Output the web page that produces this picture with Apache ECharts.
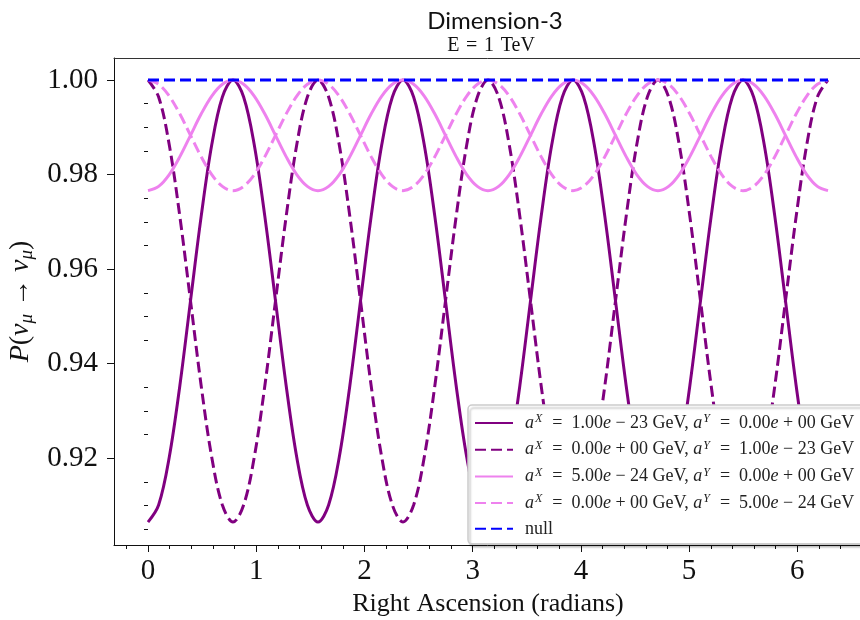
<!DOCTYPE html>
<html><head><meta charset="utf-8">
<script src="https://cdn.jsdelivr.net/npm/echarts@6/dist/echarts.min.js"></script>
<style>html,body{margin:0;padding:0;background:#fff}#c{width:860px;height:620px}</style>
</head><body><div id="c"></div>
<script>
// Right ascension samples (radians)
const ra = [0,0.0982,0.1963,0.2945,0.3927,0.4909,0.5890,0.6872,0.7854,0.8836,0.9817,1.0799,1.1781,1.2763,1.3744,1.4726,
1.5708,1.6690,1.7671,1.8653,1.9635,2.0617,2.1598,2.2580,2.3562,2.4544,2.5525,2.6507,2.7489,2.8471,2.9452,3.0434,
3.1416,3.2398,3.3379,3.4361,3.5343,3.6325,3.7306,3.8288,3.9270,4.0252,4.1233,4.2215,4.3197,4.4179,4.5160,4.6142,
4.7124,4.8106,4.9087,5.0069,5.1051,5.2033,5.3014,5.3996,5.4978,5.5960,5.6941,5.7923,5.8905,5.9887,6.0868,6.1850,6.2832];

const pAx1e23 = [0.9065,0.9101,0.9202,0.9354,0.9533,0.9711,0.9863,0.9964,1.0000,0.9964,0.9863,0.9711,0.9533,0.9354,0.9202,0.9101,
0.9065,0.9101,0.9202,0.9354,0.9533,0.9711,0.9863,0.9964,1.0000,0.9964,0.9863,0.9711,0.9533,0.9354,0.9202,0.9101,
0.9065,0.9101,0.9202,0.9354,0.9533,0.9711,0.9863,0.9964,1.0000,0.9964,0.9863,0.9711,0.9533,0.9354,0.9202,0.9101,
0.9065,0.9101,0.9202,0.9354,0.9533,0.9711,0.9863,0.9964,1.0000,0.9964,0.9863,0.9711,0.9533,0.9354,0.9202,0.9101,0.9065];

const pAy1e23 = [1.0000,0.9964,0.9863,0.9711,0.9533,0.9354,0.9202,0.9101,0.9065,0.9101,0.9202,0.9354,0.9533,0.9711,0.9863,0.9964,
1.0000,0.9964,0.9863,0.9711,0.9533,0.9354,0.9202,0.9101,0.9065,0.9101,0.9202,0.9354,0.9533,0.9711,0.9863,0.9964,
1.0000,0.9964,0.9863,0.9711,0.9533,0.9354,0.9202,0.9101,0.9065,0.9101,0.9202,0.9354,0.9533,0.9711,0.9863,0.9964,
1.0000,0.9964,0.9863,0.9711,0.9533,0.9354,0.9202,0.9101,0.9065,0.9101,0.9202,0.9354,0.9533,0.9711,0.9863,0.9964,1.0000];

const pAx5e24 = [0.9766,0.9775,0.9800,0.9838,0.9883,0.9928,0.9966,0.9991,1.0000,0.9991,0.9966,0.9928,0.9883,0.9838,0.9800,0.9775,
0.9766,0.9775,0.9800,0.9838,0.9883,0.9928,0.9966,0.9991,1.0000,0.9991,0.9966,0.9928,0.9883,0.9838,0.9800,0.9775,
0.9766,0.9775,0.9800,0.9838,0.9883,0.9928,0.9966,0.9991,1.0000,0.9991,0.9966,0.9928,0.9883,0.9838,0.9800,0.9775,
0.9766,0.9775,0.9800,0.9838,0.9883,0.9928,0.9966,0.9991,1.0000,0.9991,0.9966,0.9928,0.9883,0.9838,0.9800,0.9775,0.9766];

const pAy5e24 = [1.0000,0.9991,0.9966,0.9928,0.9883,0.9838,0.9800,0.9775,0.9766,0.9775,0.9800,0.9838,0.9883,0.9928,0.9966,0.9991,
1.0000,0.9991,0.9966,0.9928,0.9883,0.9838,0.9800,0.9775,0.9766,0.9775,0.9800,0.9838,0.9883,0.9928,0.9966,0.9991,
1.0000,0.9991,0.9966,0.9928,0.9883,0.9838,0.9800,0.9775,0.9766,0.9775,0.9800,0.9838,0.9883,0.9928,0.9966,0.9991,
1.0000,0.9991,0.9966,0.9928,0.9883,0.9838,0.9800,0.9775,0.9766,0.9775,0.9800,0.9838,0.9883,0.9928,0.9966,0.9991,1.0000];

const pNull = [1,1,1,1,1,1,1,1,1,1,1,1,1,1,1,1,1,1,1,1,1,1,1,1,1,1,1,1,1,1,1,1,
1,1,1,1,1,1,1,1,1,1,1,1,1,1,1,1,1,1,1,1,1,1,1,1,1,1,1,1,1,1,1,1,1];

// legend labels
const seriesNames = ['ax1e-23', 'ay1e-23', 'ax5e-24', 'ay5e-24', 'null'];
const legendAX = ['1.00', '0.00', '5.00', '0.00'];
const legendAXexp = ['− 23', '+ 00', '− 24', '+ 00'];
const legendAY = ['0.00', '1.00', '0.00', '5.00'];
const legendAYexp = ['+ 00', '− 23', '+ 00', '− 24'];

const xMajor = [0, 1, 2, 3, 4, 5, 6];
const xMinor = [-0.2, 0.2, 0.4, 0.6, 0.8, 1.2, 1.4, 1.6, 1.8, 2.2, 2.4, 2.6, 2.8, 3.2, 3.4, 3.6, 3.8, 4.2, 4.4, 4.6, 4.8, 5.2, 5.4, 5.6, 5.8, 6.2, 6.4];
const yMajor = [0.92, 0.94, 0.96, 0.98, 1.00];
const yMinor = [0.905, 0.910, 0.915, 0.925, 0.930, 0.935, 0.945, 0.950, 0.955, 0.965, 0.970, 0.975, 0.985, 0.990, 0.995];

const xMin = -0.3142, xMax = 6.5974, yMin = 0.90165, yMax = 1.00466;
const SERIF = '"Liberation Serif", "DejaVu Serif", serif';
const INK = '#111';

const chart = echarts.init(document.getElementById('c'), null, {renderer: 'canvas'});

function pts(ys) { return ra.map((x, i) => [x, ys[i]]); }

const colors = ['#800080', '#800080', '#EE82EE', '#EE82EE', '#0000FF'];
const types = ['solid', [11, 5], 'solid', [11, 5], [11, 5]];
const datas = [pAx1e23, pAy1e23, pAx5e24, pAy5e24, pNull];

const series = seriesNames.map((n, i) => ({
  name: n, type: 'line', xAxisIndex: 0, yAxisIndex: 0,
  data: pts(datas[i]), showSymbol: false, symbol: 'none', smooth: 0.35,
  lineStyle: {color: colors[i], width: 3, type: types[i]},
  itemStyle: {color: colors[i]}, z: 2 + i, animation: false
}));

const axisText = {fontFamily: SERIF, fontSize: 29, color: INK};
const EN = '\u2002', SP = '\u2004';

chart.setOption({
  animation: false,
  title: [
    {text: 'Dimension-3', left: 490, top: 4, textAlign: 'center',
     textStyle: {fontFamily: 'Lato, "Open Sans", sans-serif', fontSize: 24, fontWeight: 'normal', color: INK}},
    {text: 'E' + SP + '=' + SP + '1' + SP + 'TeV', left: 486, top: 31, textAlign: 'center',
     textStyle: {fontFamily: SERIF, fontSize: 20, fontWeight: 'normal', color: INK}}
  ],
  grid: {left: 114, right: -2, top: 58, bottom: 75, show: false, containLabel: false, outerBoundsMode: 'none'},
  xAxis: [
    {type: 'value', min: xMin, max: xMax, position: 'bottom',
     axisLine: {show: true, onZero: false, lineStyle: {color: INK, width: 1}}, splitLine: {show: false},
     axisTick: {show: true, customValues: xMajor, length: 7, lineStyle: {color: INK}},
     axisLabel: {customValues: xMajor, margin: 12, ...axisText, formatter: v => String(Math.round(v))},
     name: 'Right Ascension (radians)', nameLocation: 'middle', nameGap: 44,
     nameTextStyle: {fontFamily: SERIF, fontSize: 26, color: INK}},
    {type: 'value', min: xMin, max: xMax, position: 'bottom',
     axisLine: {show: false}, splitLine: {show: false},
     axisTick: {show: true, customValues: xMinor, length: 4, lineStyle: {color: INK}},
     axisLabel: {show: false}},
    {type: 'value', min: xMin, max: xMax, position: 'top',
     axisLine: {show: true, onZero: false, lineStyle: {color: '#333', width: 1}}, splitLine: {show: false},
     axisTick: {show: false}, axisLabel: {show: false}}
  ],
  yAxis: [
    {type: 'value', min: yMin, max: yMax, position: 'left',
     axisLine: {show: true, onZero: false, lineStyle: {color: INK, width: 1}}, splitLine: {show: false},
     axisTick: {show: true, customValues: yMajor, length: 7, lineStyle: {color: INK}},
     axisLabel: {customValues: yMajor, margin: 16, ...axisText, formatter: v => v.toFixed(2)},
     name: '{i|P}({i|ν}{s|μ} → {i|ν}{s|μ})', nameLocation: 'middle', nameRotate: 90, nameGap: 63,
     nameTextStyle: {fontFamily: SERIF, fontSize: 28, color: INK,
       rich: {i: {fontFamily: SERIF, fontStyle: 'italic', fontSize: 28, color: INK},
              s: {fontFamily: SERIF, fontStyle: 'italic', fontSize: 19, color: INK, padding: [12, 0, 0, 0]}}}},
    {type: 'value', min: yMin, max: yMax, position: 'left',
     axisLine: {show: false}, splitLine: {show: false},
     axisTick: {show: true, customValues: yMinor, length: 4, lineStyle: {color: INK}},
     axisLabel: {show: false}}
  ],
  legend: {
    orient: 'vertical', left: 468, top: 405, padding: [8, 12, 6, 6],
    itemWidth: 38, itemHeight: 16, itemGap: 7.7,
    backgroundColor: '#fff', borderColor: '#cccccc', borderWidth: 1.5, borderRadius: 4,
    shadowColor: 'rgba(0,0,0,0.22)', shadowOffsetX: 2, shadowOffsetY: 3, shadowBlur: 2,
    itemStyle: {opacity: 0, borderWidth: 0},
    data: seriesNames,
    formatter: function (name) {
      const i = seriesNames.indexOf(name);
      if (i === 4) return '{n|null}';
      return '{a0|a}{sup|X}{t|' + EN + '=' + EN + legendAX[i] + '}{i|e}{t| ' + legendAXexp[i] + ' GeV, }{i|a}{sup|Y}{t|' + EN + '=' + EN + legendAY[i] + '}{i|e}{t| ' + legendAYexp[i] + ' GeV}';
    },
    textStyle: {fontFamily: SERIF, fontSize: 18, color: '#222',
      rich: {t: {fontFamily: SERIF, fontSize: 18, color: '#222'},
             n: {fontFamily: SERIF, fontSize: 18, color: '#222', padding: [0, 0, 0, 7]},
             a0: {fontFamily: SERIF, fontStyle: 'italic', fontSize: 18, color: '#222', padding: [0, 0, 0, 7]},
             i: {fontFamily: SERIF, fontStyle: 'italic', fontSize: 18, color: '#222'},
             sup: {fontFamily: SERIF, fontStyle: 'italic', fontSize: 12, color: '#222', verticalAlign: 'top', padding: [0, 1, 8, 1]}}}
  },
  series: series
});
</script></body></html>
